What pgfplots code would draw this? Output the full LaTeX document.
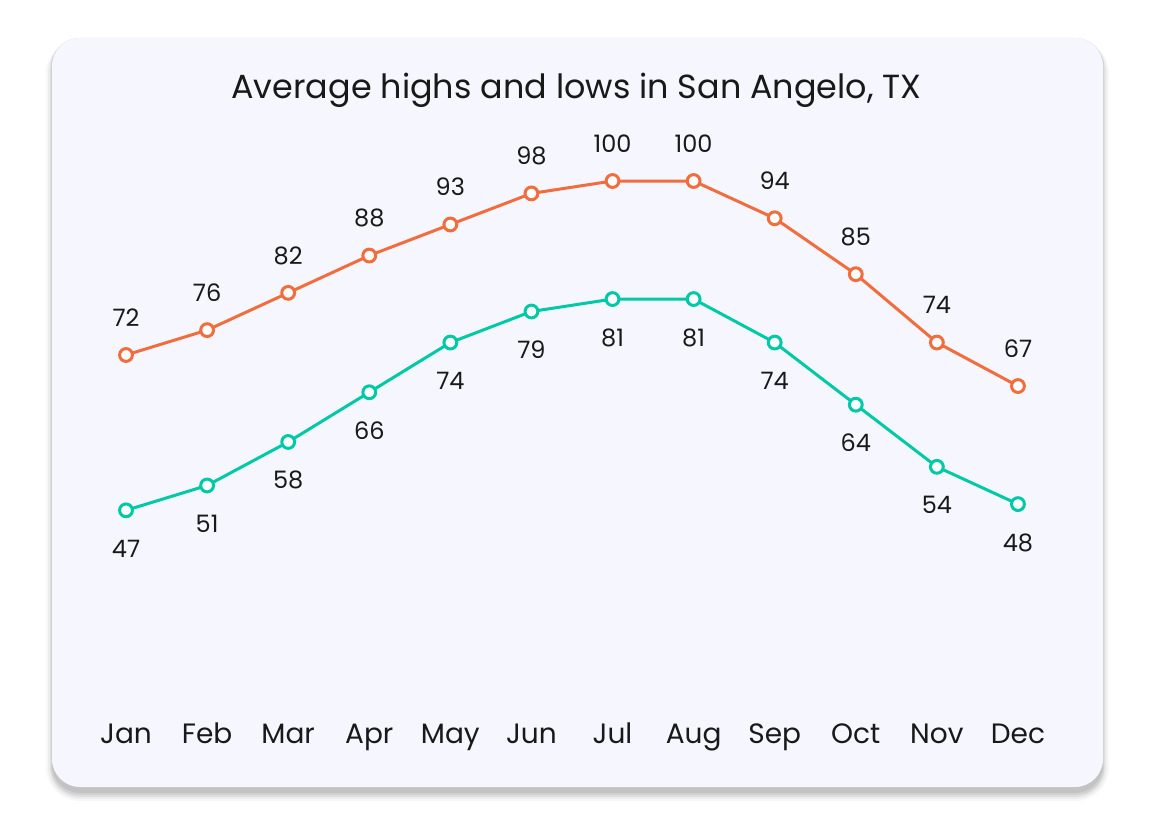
\documentclass[border=0pt]{standalone}
\usepackage{pgfplots}
\pgfplotsset{compat=1.18}
\usepackage{fontspec}
\setmainfont{Poppins}
\definecolor{hiC}{HTML}{F26D3D}
\definecolor{loC}{HTML}{00C9A7}
\definecolor{cardC}{HTML}{F5F6FE}
\begin{document}
\begin{tikzpicture}
% white page and card with shadow (axis box spans (0,0)-(577.5pt,412.5pt))
\fill[white] (0,0) rectangle (577.5pt,412.5pt);
\fill[black, opacity=0.03, rounded corners=17pt] (23pt,12pt) rectangle (554.5pt,392.5pt);
\fill[black, opacity=0.04, rounded corners=16pt] (24pt,13pt) rectangle (553.5pt,392.5pt);
\fill[black, opacity=0.05, rounded corners=15pt] (25pt,14pt) rectangle (552.5pt,392.5pt);
\fill[black, opacity=0.06, rounded corners=14pt] (25.5pt,15pt) rectangle (552pt,393.5pt);
\fill[black, opacity=0.07, rounded corners=14pt] (26pt,16pt) rectangle (551.5pt,393.5pt);
\fill[cardC, rounded corners=14pt] (26pt,19pt) rectangle (551.5pt,393.5pt);
\begin{axis}[
  at={(0,0)}, anchor=south west,
  scale only axis,
  width=577.5pt, height=412.5pt,
  xmin=-1.554, xmax=12.690,
  ymin=-3.64, ymax=129.13,
  clip=false,
  axis line style={draw=none},
  tick style={draw=none},
  ytick=\empty,
  xtick={0,...,11},
  xticklabels={Jan,Feb,Mar,Apr,May,Jun,Jul,Aug,Sep,Oct,Nov,Dec},
  xticklabel style={anchor=base, yshift=41pt, font=\fontsize{14}{16}\selectfont, text=black!90},
  /pgf/number format/assume math mode=true,
  nodes near coords,
  every node near coord/.append style={font=\fontsize{12}{14}\selectfont, text=black!90, anchor=base, inner sep=0pt},
]
\node[anchor=base, font=\fontsize{16.7}{20}\selectfont, text=black!90] at (rel axis cs:0.4991,0.8812) {Average highs and lows in San Angelo, TX};
\addplot[hiC, line width=1.5pt, mark=*, mark size=3.2pt,
  mark options={fill=white, draw=hiC, line width=1.5pt},
  every node near coord/.append style={yshift=14.3pt}]
  coordinates {(0,72) (1,76) (2,82) (3,88) (4,93) (5,98) (6,100) (7,100) (8,94) (9,85) (10,74) (11,67)};
\addplot[loC, line width=1.5pt, mark=*, mark size=3.2pt,
  mark options={fill=white, draw=loC, line width=1.5pt},
  every node near coord/.append style={yshift=-23.5pt}]
  coordinates {(0,47) (1,51) (2,58) (3,66) (4,74) (5,79) (6,81) (7,81) (8,74) (9,64) (10,54) (11,48)};
\end{axis}
\end{tikzpicture}
\end{document}
